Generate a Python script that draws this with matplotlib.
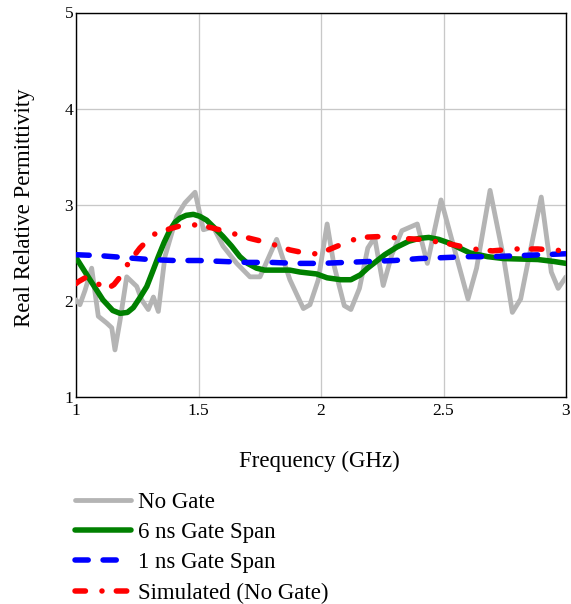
import matplotlib
matplotlib.use("Agg")
import matplotlib.pyplot as plt

# ---------------- data ----------------
nogate_x = [1.000, 1.016, 1.037, 1.064, 1.091, 1.125, 1.146, 1.159, 1.180, 1.207,
            1.248, 1.268, 1.295, 1.316, 1.336, 1.363, 1.411, 1.445, 1.486, 1.520,
            1.560, 1.600, 1.656, 1.710, 1.751, 1.819, 1.873, 1.928, 1.955, 1.989,
            2.025, 2.053, 2.095, 2.122, 2.157, 2.191, 2.219, 2.254, 2.289, 2.330,
            2.393, 2.434, 2.490, 2.539, 2.600, 2.635, 2.690, 2.746, 2.781, 2.815,
            2.843, 2.899, 2.940, 2.968, 3.000]
nogate_y = [2.01, 1.96, 2.11, 2.34, 1.84, 1.77, 1.72, 1.49, 1.80, 2.25,
            2.15, 2.01, 1.91, 2.04, 1.89, 2.46, 2.88, 3.02, 3.13, 2.74,
            2.77, 2.57, 2.39, 2.25, 2.25, 2.64, 2.22, 1.92, 1.96, 2.22,
            2.80, 2.37, 1.95, 1.91, 2.13, 2.55, 2.66, 2.16, 2.48, 2.73,
            2.80, 2.39, 3.05, 2.59, 2.02, 2.34, 3.15, 2.44, 1.88, 2.02,
            2.38, 3.08, 2.30, 2.13, 2.25]

gate6_x = [1.000, 1.057, 1.110, 1.150, 1.180, 1.210, 1.234, 1.260, 1.289, 1.312,
           1.336, 1.360, 1.384, 1.405, 1.424, 1.450, 1.479, 1.505, 1.533, 1.565,
           1.600, 1.635, 1.669, 1.700, 1.737, 1.770, 1.805, 1.873, 1.914, 1.982,
           2.025, 2.080, 2.122, 2.160, 2.190, 2.225, 2.260, 2.310, 2.358, 2.400,
           2.440, 2.480, 2.525, 2.565, 2.607, 2.680, 2.746, 2.885, 2.950, 3.000]
gate6_y = [2.45, 2.22, 2.01, 1.90, 1.87, 1.88, 1.93, 2.03, 2.15, 2.30,
           2.46, 2.61, 2.74, 2.82, 2.86, 2.89, 2.90, 2.88, 2.84, 2.76,
           2.67, 2.57, 2.46, 2.39, 2.34, 2.32, 2.32, 2.32, 2.30, 2.28,
           2.24, 2.22, 2.22, 2.27, 2.34, 2.41, 2.48, 2.56, 2.62, 2.65,
           2.66, 2.64, 2.60, 2.55, 2.50, 2.46, 2.44, 2.43, 2.41, 2.39]

gate1_x = [1.0, 1.1, 1.2, 1.3, 1.4, 1.5, 1.6, 1.7, 1.8, 1.9, 2.0,
           2.1, 2.2, 2.3, 2.4, 2.5, 2.6, 2.7, 2.8, 2.9, 3.0]
gate1_y = [2.48, 2.47, 2.45, 2.43, 2.42, 2.42, 2.41, 2.40, 2.40, 2.39, 2.39,
           2.40, 2.41, 2.42, 2.44, 2.45, 2.46, 2.46, 2.47, 2.48, 2.49]

sim_x = [1.000, 1.010, 1.044, 1.078, 1.105, 1.131, 1.155, 1.180, 1.213, 1.261,
         1.316, 1.370, 1.438, 1.506, 1.554, 1.615, 1.710, 1.790, 1.873, 1.930,
         1.976, 2.020, 2.067, 2.157, 2.247, 2.330, 2.410, 2.510, 2.620, 2.700,
         2.790, 2.885, 3.000]
sim_y = [2.18, 2.20, 2.25, 2.20, 2.15, 2.13, 2.17, 2.25, 2.39, 2.55,
         2.69, 2.74, 2.79, 2.79, 2.76, 2.72, 2.65, 2.60, 2.53, 2.50,
         2.49, 2.52, 2.57, 2.66, 2.67, 2.65, 2.64, 2.60, 2.54, 2.52,
         2.54, 2.54, 2.52]

labels = ["No Gate", "6 ns Gate Span", "1 ns Gate Span", "Simulated (No Gate)"]
x_ticks = [1, 1.5, 2, 2.5, 3]
x_tick_labels = ["1", "1.5", "2", "2.5", "3"]
y_ticks = [1, 2, 3, 4, 5]
y_tick_labels = ["1", "2", "3", "4", "5"]

# ---------------- figure ----------------
W, H = 571, 604
fig = plt.figure(figsize=(W / 100, H / 100), dpi=100)
plt.rcParams['font.family'] = ['Liberation Serif', 'DejaVu Serif']

l, r, t, b = 76, 566, 12.5, 397
ax = fig.add_axes([l / W, 1 - b / H, (r - l) / W, (b - t) / H])

px = 0.72  # points per pixel
lw = 5.5 * px

ax.plot(nogate_x, nogate_y, color='#b4b4b4', lw=4.8 * px, solid_joinstyle='round',
        solid_capstyle='round', label=labels[0], zorder=3)
ax.plot(gate6_x, gate6_y, color='#008000', lw=lw, solid_joinstyle='round',
        solid_capstyle='round', label=labels[1], zorder=4)
ax.plot(gate1_x, gate1_y, color='#0000ff', lw=lw, dash_capstyle='round',
        dashes=(2.4, 2.7), label=labels[2], zorder=5)
ax.plot(sim_x, sim_y, color='#ff0000', lw=lw, dash_capstyle='round',
        dashes=(1.9, 3.0, 0.01, 2.6), label=labels[3], zorder=6)

ax.set_xlim(1, 3)
ax.set_ylim(1, 5)
ax.set_xticks(x_ticks)
ax.set_xticklabels(x_tick_labels)
ax.set_yticks(y_ticks)
ax.set_yticklabels(y_tick_labels)
ax.tick_params(length=0, labelsize=12.5)
ax.tick_params(axis='x', pad=4)
ax.tick_params(axis='y', pad=2)
ax.grid(True, color='#c8c8c8', lw=1.3 * px, zorder=0)
ax.set_axisbelow(True)
for s in ax.spines.values():
    s.set_linewidth(1.4 * px)
    s.set_color('black')

fig.text(319 / W, 1 - 461 / H, "Frequency (GHz)", ha='center', va='center', fontsize=16.5)
fig.text(25 / W, 1 - 208 / H, "Real Relative Permittivity", ha='center', va='center',
         rotation=90, fontsize=16.5)

handles, labs = ax.get_legend_handles_labels()
fig.legend(handles, labs, loc='upper left', bbox_to_anchor=(75 / W, 1 - 492 / H),
           frameon=False, fontsize=16.5, handlelength=2.45, handletextpad=0.32,
           labelspacing=0.4, borderpad=0, borderaxespad=0)

fig.savefig("out.png", dpi=100)
